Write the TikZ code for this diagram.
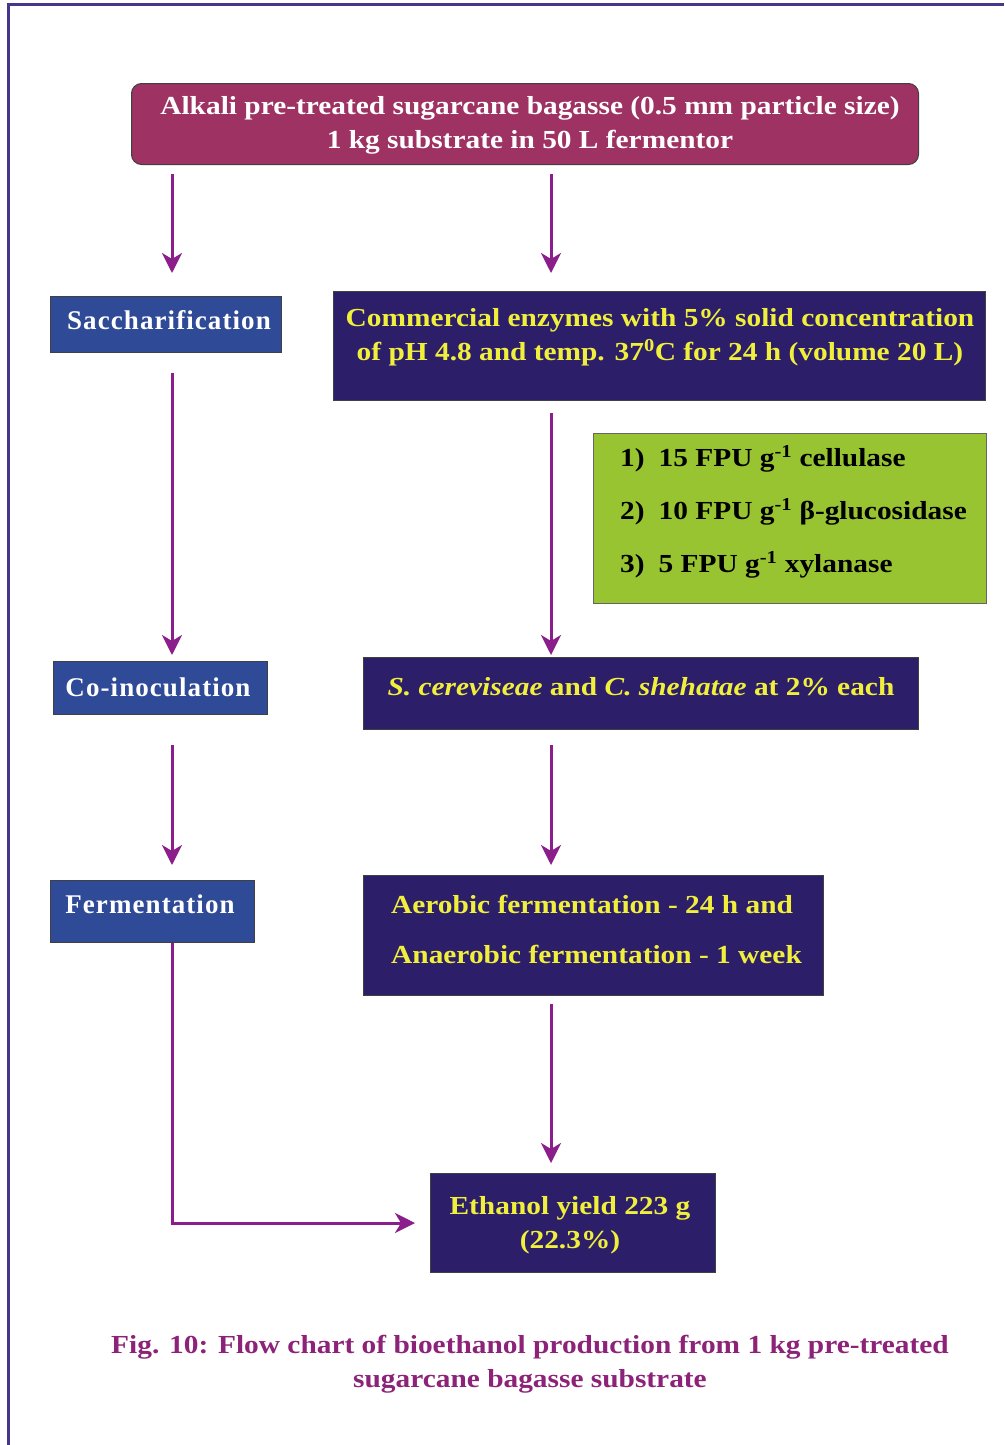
\documentclass[tikz,border=0pt]{standalone}
\usepackage{fontspec}
\setmainfont{Liberation Serif}
\newfontfamily\condf[FakeStretch=1.13]{Liberation Serif}
\newfontfamily\widef[LetterSpace=4]{Liberation Serif}
\usetikzlibrary{arrows.meta}
\definecolor{framec}{RGB}{70,55,140}
\definecolor{topfill}{RGB}{158,50,98}
\definecolor{bluefill}{RGB}{47,74,150}
\definecolor{darkfill}{RGB}{45,30,105}
\definecolor{yel}{RGB}{240,240,60}
\definecolor{greenfill}{RGB}{153,196,49}
\definecolor{arrc}{RGB}{140,30,140}
\definecolor{capc}{RGB}{140,35,120}
\tikzset{
  boxbase/.style={draw=black!75, line width=1pt, inner sep=0pt, anchor=north west},
  topbox/.style={boxbase, fill=topfill, rounded corners=10pt},
  labbox/.style={boxbase, fill=bluefill},
  darkbox/.style={boxbase, fill=darkfill},
  greenbox/.style={boxbase, fill=greenfill, draw=black!60},
  labtxt/.style={text=white, font=\widef\bfseries\fontsize{27}{30}\selectfont, inner sep=0pt},
  toptxt/.style={text=white, font=\condf\bfseries\fontsize{26}{34}\selectfont, align=center, inner sep=0pt},
  yeltxt/.style={text=yel, font=\condf\bfseries\fontsize{26}{34}\selectfont, align=center, inner sep=0pt},
  blktxt/.style={text=black, font=\condf\bfseries\fontsize{26}{30}\selectfont, inner sep=0pt, anchor=west},
  captxt/.style={text=capc, font=\condf\bfseries\fontsize{26}{34}\selectfont, align=center, inner sep=0pt},
  arr/.style={draw=arrc, line width=3pt, -{Stealth[length=20pt,width=20pt,inset=6pt]}},
}
\begin{document}
\begin{tikzpicture}[x=1pt,y=-1pt]
\useasboundingbox (0,0) rectangle (1004,1445);
% frame
\draw[framec, line width=3pt] (8,1445) -- (8,5) -- (1004,5);
% boxes
\node[topbox, minimum width=787pt, minimum height=81pt] (top) at (131,83) {};
\node[toptxt] (toptext) at (530,125) {Alkali pre-treated sugarcane bagasse (0.5 mm particle size)\\1 kg substrate in 50 L fermentor};

\node[labbox, minimum width=231pt, minimum height=56pt] (sac) at (50,296) {};
\node[labtxt] (sactext) at (169,320) {Saccharification};

\node[darkbox, minimum width=652pt, minimum height=109pt] (enz) at (333,291) {};
\node[yeltxt] (enztext) at (660,337) {Commercial enzymes with 5\% solid concentration\\of pH 4.8 and temp. 37\textsuperscript{0}C for 24 h (volume 20 L)};

\node[greenbox, minimum width=393pt, minimum height=170pt] (grn) at (593,433) {};
\node[blktxt] (g1) at (620,459) {1)\hspace{14pt}15 FPU g\textsuperscript{-1} cellulase};
\node[blktxt] (g2) at (620,512) {2)\hspace{14pt}10 FPU g\textsuperscript{-1} β-glucosidase};
\node[blktxt] (g3) at (620,565) {3)\hspace{14pt}5 FPU g\textsuperscript{-1} xylanase};

\node[labbox, minimum width=214pt, minimum height=53pt] (coi) at (53,661) {};
\node[labtxt] (coitext) at (158,687) {Co-inoculation};

\node[darkbox, minimum width=555pt, minimum height=72pt] (sc) at (363,657) {};
\node[yeltxt] (sctext) at (641,687) {\itshape S. cereviseae\upshape{} and \itshape C. shehatae\upshape{} at 2\% each};

\node[labbox, minimum width=204pt, minimum height=62pt] (fer) at (50,880) {};
\node[labtxt] (fertext) at (150,904) {Fermentation};

\node[darkbox, minimum width=460pt, minimum height=120pt] (aer) at (363,875) {};
\node[yeltxt, anchor=west] (aer1) at (391,904) {Aerobic fermentation - 24 h and};
\node[yeltxt, anchor=west] (aer2) at (391,954) {Anaerobic fermentation - 1 week};

\node[darkbox, minimum width=285pt, minimum height=99pt] (eth) at (430,1173) {};
\node[yeltxt] (ethtext) at (570,1225) {Ethanol yield 223 g\\(22.3\%)};

\node[captxt] (cap) at (530,1364) {Fig. 10: Flow chart of bioethanol production from 1 kg pre-treated\\sugarcane bagasse substrate};

% connectors
\coordinate (cL) at (172,0);
\coordinate (cR) at (551,0);
\draw[arr, shorten <=9pt, shorten >=23pt] (top.south -| cL) -- (sac.north -| cL);
\draw[arr, shorten <=20pt, shorten >=6pt] (sac.south -| cL) -- (coi.north -| cL);
\draw[arr, shorten <=30pt, shorten >=15pt] (coi.south -| cL) -- (fer.north -| cL);
\draw[arr, shorten >=15pt] (fer.south -| cL) |- (eth.west);
\draw[arr, shorten <=9pt, shorten >=18pt] (top.south -| cR) -- (enz.north -| cR);
\draw[arr, shorten <=12pt, shorten >=2pt] (enz.south -| cR) -- (sc.north -| cR);
\draw[arr, shorten <=15pt, shorten >=10pt] (sc.south -| cR) -- (aer.north -| cR);
\draw[arr, shorten <=8pt, shorten >=10pt] (aer.south -| cR) -- (eth.north -| cR);
\end{tikzpicture}
\end{document}
